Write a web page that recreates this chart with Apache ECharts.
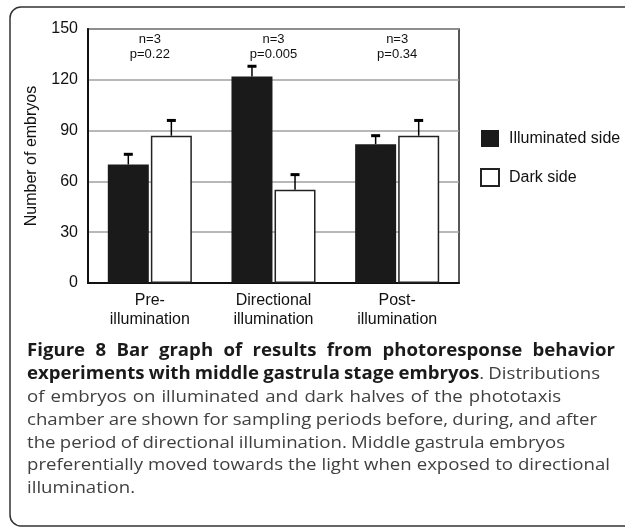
<!DOCTYPE html>
<html><head><meta charset="utf-8">
<script src="https://cdn.jsdelivr.net/npm/echarts@6/dist/echarts.min.js"></script>
<style>html,body{margin:0;padding:0;background:#fff}#c{width:625px;height:528px}</style>
</head><body><div id="c"></div>
<script>
const categories = ['Pre-\nillumination', 'Directional\nillumination', 'Post-\nillumination'];
const illuminated = [70, 122, 82];
const illuminatedErr = [6, 6, 5];
const dark = [87, 55, 87];
const darkErr = [9, 9, 9];
const annotations = ['n=3\np=0.22', 'n=3\np=0.005', 'n=3\np=0.34'];
const yTicks = [0, 30, 60, 90, 120, 150];
const seriesNames = ['Illuminated side', 'Dark side'];
// caption lines: text with **bold** markup, and the right edge each line reaches in the reference
const captionLines = [
  ['**Figure 8 Bar graph of results from photoresponse behavior**', 615],
  ['**experiments with middle gastrula stage embryos**. Distributions', 600],
  ['of embryos on illuminated and dark halves of the phototaxis', 561],
  ['chamber are shown for sampling periods before, during, and after', 597],
  ['the period of directional illumination. Middle gastrula embryos', 565],
  ['preferentially moved towards the light when exposed to directional', 610],
  ['illumination.', null]
];

const chart = echarts.init(document.getElementById('c'));
const BAR_W = 41, GAP_PCT = 5;
const FONT = 'Liberation Sans, Arial, sans-serif';
const CAP_SIZE = 17, CAP_SCALE = 1.095, CAP_LEFT = 27, CAP_TOP = 343, CAP_STEP = 22.8;

function errSeries(vals, errs, idx) {
  return {
    type: 'custom', z: 5, silent: true,
    data: vals.map((v, i) => [i, v, v + errs[i]]),
    renderItem: function (params, api) {
      const c = api.coord([api.value(0), api.value(1)]);
      const t = api.coord([api.value(0), api.value(2)]);
      const gap = BAR_W * GAP_PCT / 100;
      const off = (idx === 0 ? -1 : 1) * (BAR_W + gap) / 2;
      const x = c[0] + off;
      return { type: 'group', children: [
        { type: 'line', shape: {x1: x, y1: c[1], x2: x, y2: t[1]}, style: {stroke: '#000', lineWidth: 1.5} },
        { type: 'line', shape: {x1: x - 4.5, y1: t[1], x2: x + 4.5, y2: t[1]}, style: {stroke: '#000', lineWidth: 3} }
      ]};
    }
  };
}

const mctx = document.createElement('canvas').getContext('2d');
function fontOf(bold) { return (bold ? 'bold ' : '') + CAP_SIZE + 'px "Open Sans"'; }
function measure(str, bold) { mctx.font = fontOf(bold); return mctx.measureText(str).width; }

const graphics = [
  { type: 'rect', shape: {x: 10, y: 7, width: 700, height: 519, r: [11, 0, 0, 11]},
    style: {fill: 'none', stroke: '#333', lineWidth: 1.5}, silent: true }
];
captionLines.forEach(([line, right], li) => {
  // split into pieces with bold flags
  const pieces = [];
  line.split('**').forEach((seg, k) => { if (seg) pieces.push({t: seg, b: k % 2 === 1}); });
  // build words: each word = list of pieces
  const words = [[]];
  pieces.forEach(p => {
    const parts = p.t.split(' ');
    parts.forEach((w, j) => {
      if (j > 0) words.push([]);
      if (w) words[words.length - 1].push({t: w, b: p.b});
    });
  });
  const ws = words.filter(w => w.length);
  const widths = ws.map(w => w.reduce((s, p) => s + measure(p.t, p.b), 0) * CAP_SCALE);
  const total = widths.reduce((a, b) => a + b, 0);
  let gap = measure(' ', false) * CAP_SCALE;
  if (right !== null && ws.length > 1) gap = (right - CAP_LEFT - total) / (ws.length - 1);
  let x = CAP_LEFT;
  const y = CAP_TOP + li * CAP_STEP;
  ws.forEach((w, wi) => {
    let px = x;
    w.forEach(p => {
      graphics.push({
        type: 'text', x: px, y: y, scaleX: CAP_SCALE, silent: true,
        style: {text: p.t, font: fontOf(p.b), fill: p.b ? '#1a1a1a' : '#404040', textVerticalAlign: 'top'}
      });
      px += measure(p.t, p.b) * CAP_SCALE;
    });
    x += widths[wi] + gap;
  });
});

chart.setOption({
  animation: false,
  grid: {left: 88, top: 29, right: 166, bottom: 245, show: true, borderColor: '#222', borderWidth: 1.5},
  legend: {
    orient: 'vertical', left: 475, top: 125, itemWidth: 18, itemHeight: 17, itemGap: 21,
    icon: 'rect', data: seriesNames,
    textStyle: {fontFamily: FONT, fontSize: 16, color: '#111', padding: [0, 0, 0, 5]}
  },
  xAxis: {
    type: 'category', data: categories,
    axisLine: {lineStyle: {color: '#111', width: 2}},
    axisTick: {show: false},
    axisLabel: {fontFamily: FONT, fontSize: 16, color: '#111', lineHeight: 19, margin: 8}
  },
  yAxis: {
    type: 'value', min: yTicks[0], max: yTicks[yTicks.length - 1], interval: yTicks[1] - yTicks[0],
    name: 'Number of embryos', nameLocation: 'middle', nameGap: 48, nameRotate: 90,
    nameTextStyle: {fontFamily: FONT, fontSize: 16, color: '#111'},
    axisLine: {show: true, lineStyle: {color: '#111', width: 2}},
    axisTick: {show: false},
    axisLabel: {fontFamily: FONT, fontSize: 16, color: '#111', margin: 10},
    splitLine: {lineStyle: {color: '#a0a0a0', width: 1.5}}
  },
  series: [
    { name: seriesNames[0], type: 'bar', data: illuminated, barWidth: BAR_W, barGap: GAP_PCT + '%',
      itemStyle: {color: '#1a1a1a', borderColor: '#1a1a1a', borderWidth: 0} },
    { name: seriesNames[1], type: 'bar', data: dark, barWidth: BAR_W,
      itemStyle: {color: '#fff', borderColor: '#222', borderWidth: 1.5} },
    errSeries(illuminated, illuminatedErr, 0),
    errSeries(dark, darkErr, 1),
    { type: 'custom', silent: true, z: 6,
      data: annotations.map((a, i) => [i, yTicks[yTicks.length - 1]]),
      renderItem: function (params, api) {
        const p = api.coord([api.value(0), api.value(1)]);
        return { type: 'text', x: p[0], y: p[1] + 3,
          style: {text: annotations[params.dataIndex], textAlign: 'center', textVerticalAlign: 'top',
            fontFamily: FONT, fontSize: 13, lineHeight: 15, fill: '#111'} };
      }
    }
  ],
  graphic: graphics
});
</script></body></html>
